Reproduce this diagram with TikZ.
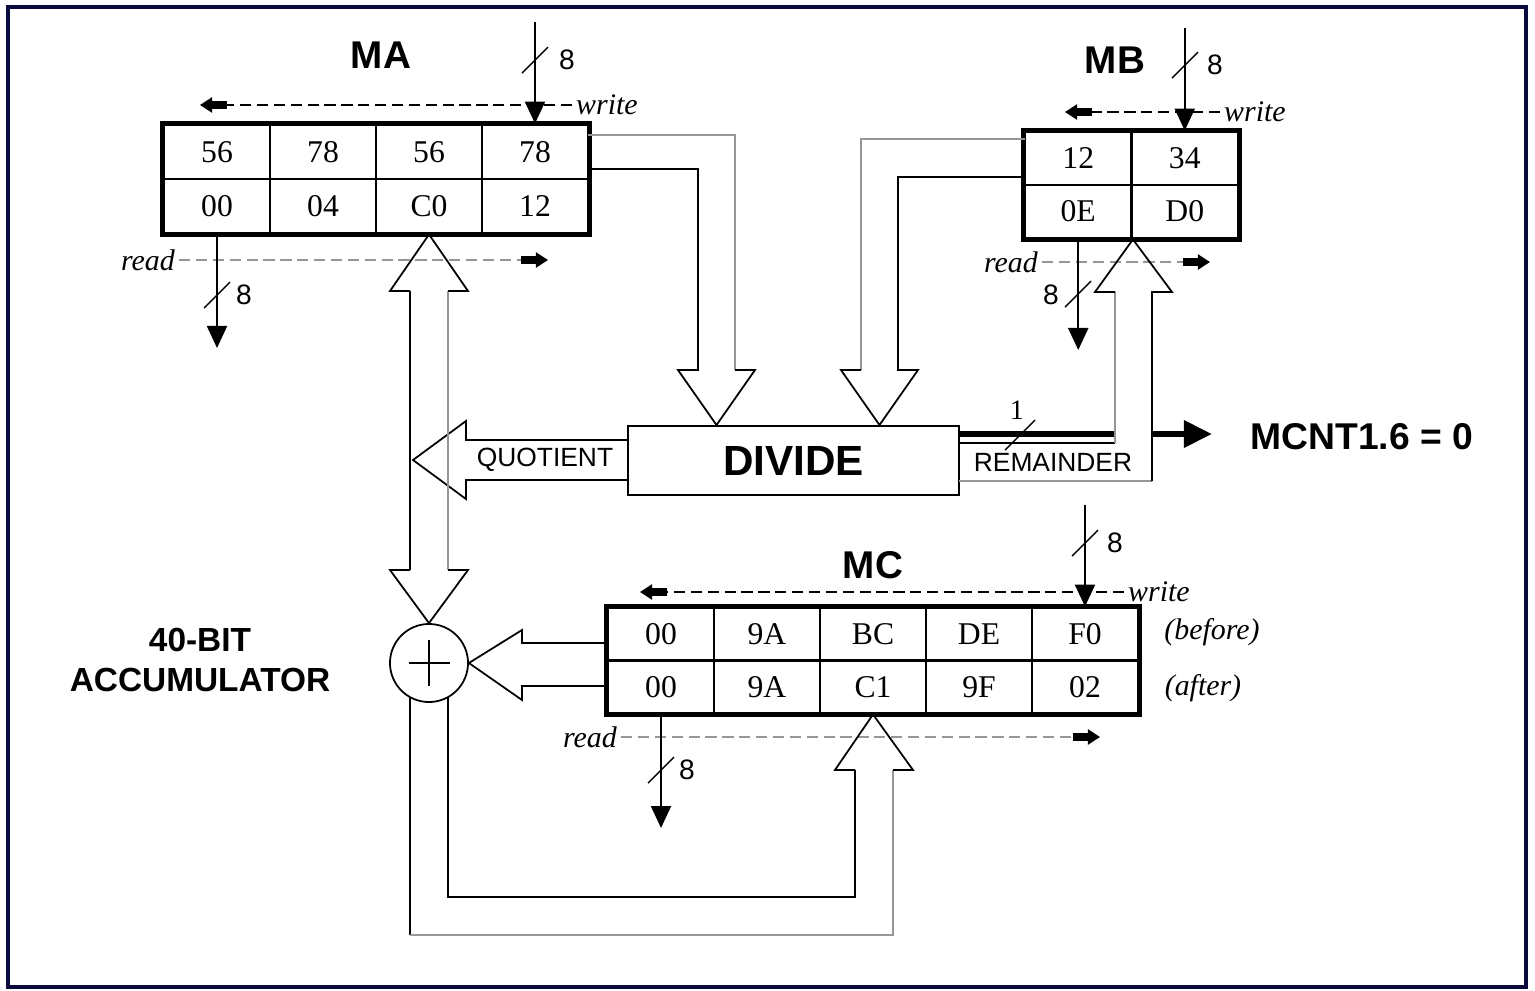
\documentclass[tikz,border=0pt]{standalone}
\usepackage{fontspec}
\setmainfont{Liberation Serif}
\setsansfont{Liberation Sans}
\usetikzlibrary{arrows.meta}

\definecolor{framecol}{RGB}{10,10,60}
\definecolor{shadecol}{RGB}{150,150,150}

\tikzset{
  cell/.style={draw, line width=0.8pt, minimum width=1.06cm, minimum height=0.54cm,
    inner sep=0pt, font=\fontsize{9}{9}\selectfont},
  regbox/.style={line width=1.3pt},
  thinline/.style={line width=0.5pt},
  shade/.style={line width=0.5pt, shadecol},
  bus/.style={line width=0.6pt, -{Triangle[length=2.2mm,width=2mm]}},
  wline/.style={line width=0.6pt, dash pattern=on 3.2pt off 1.6pt,
    -{Rectangle[black,length=1.5mm,width=0.8mm,sep=0pt]Triangle[black,length=1.2mm,width=1.5mm]}},
  rline/.style={wline, shadecol},
  slash/.style={line width=0.4pt},
  tag/.style={inner sep=1pt, font=\itshape\fontsize{8.5}{10}\selectfont},
  num/.style={inner sep=1pt, font=\sffamily\fontsize{8}{9}\selectfont},
  title/.style={font=\sffamily\bfseries\fontsize{11}{13}\selectfont},
  lbl/.style={inner sep=1pt, font=\sffamily\fontsize{7.5}{9}\selectfont},
}

\begin{document}
\begin{tikzpicture}[x=0.01cm, y=-0.01cm]
  \useasboundingbox (0,0) rectangle (1535,990);
  \draw[framecol, line width=0.9pt] (8,7) rectangle (1526,987);

  % --- register MA
  \foreach \v [count=\i] in {56,78,56,78}
    \node[cell] (ma-t\i) at (111+106*\i,152) {\v};
  \foreach \v [count=\i] in {00,04,C0,12}
    \node[cell] (ma-b\i) at (111+106*\i,206) {\v};
  \draw[regbox] (ma-t1.north west) rectangle (ma-b4.south east);
  \node[title] (ma-lbl) at (381,55) {MA};

  \coordinate (ma-in) at (535,22);
  \draw[bus] (ma-in) -- (ma-t4.north);
  \draw[slash] (522,73) -- (548,47);
  \node[num] (ma-wn) at (567,60) {8};
  \node[tag, anchor=west] (ma-w) at (572,105) {write};
  \coordinate (ma-wend) at (200,105);
  \draw[wline] (ma-w.west) -- (ma-wend);

  \node[tag, anchor=east] (ma-r) at (179,260) {read};
  \coordinate (ma-rend) at (548,260);
  \draw[rline] (ma-r.east) -- (ma-rend);
  \coordinate (ma-out) at (217,348);
  \draw[bus] (ma-b1.south) -- (ma-out);
  \draw[slash] (204,308) -- (230,282);
  \node[num] (ma-rn) at (244,295) {8};

  % --- register MB
  \foreach \v [count=\i] in {12,34}
    \node[cell, minimum width=1.065cm, minimum height=0.53cm] (mb-t\i) at (971.75+106.5*\i,158.5) {\v};
  \foreach \v [count=\i] in {0E,D0}
    \node[cell, minimum width=1.065cm, minimum height=0.53cm] (mb-b\i) at (971.75+106.5*\i,211.5) {\v};
  \draw[regbox] (mb-t1.north west) rectangle (mb-b2.south east);
  \node[title] (mb-lbl) at (1115,60) {MB};

  \coordinate (mb-in) at (1184.75,28);
  \draw[bus] (mb-in) -- (mb-t2.north);
  \draw[slash] (1172,78) -- (1198,52);
  \node[num] (mb-wn) at (1215,65) {8};
  \node[tag, anchor=west] (mb-w) at (1220,112) {write};
  \coordinate (mb-wend) at (1065,112);
  \draw[wline] (mb-w.west) -- (mb-wend);

  \node[tag, anchor=east] (mb-r) at (1042,262) {read};
  \coordinate (mb-rend) at (1210,262);
  \draw[rline] (mb-r.east) -- (mb-rend);
  \coordinate (mb-out) at (1078.25,350);
  \draw[bus] (mb-b1.south) -- (mb-out);
  \draw[slash] (1065,307) -- (1091,281);
  \node[num] (mb-rn) at (1051,295) {8};

  % --- register MC
  \foreach \v [count=\i] in {00,9A,BC,DE,F0}
    \node[cell, minimum height=0.525cm] (mc-t\i) at (555+106*\i,634.25) {\v};
  \foreach \v [count=\i] in {00,9A,C1,9F,02}
    \node[cell, minimum height=0.525cm] (mc-b\i) at (555+106*\i,686.75) {\v};
  \draw[regbox] (mc-t1.north west) rectangle (mc-b5.south east);
  \node[title] (mc-lbl) at (873,565) {MC};
  \node[tag] (before) at (1212,632) {(before)};
  \node[tag] (after) at (1203,688) {(after)};

  \coordinate (mc-in) at (1085,505);
  \draw[bus] (mc-in) -- (mc-t5.north);
  \draw[slash] (1072,556) -- (1098,530);
  \node[num] (mc-wn) at (1115,543) {8};
  \node[tag, anchor=west] (mc-w) at (1124,592) {write};
  \coordinate (mc-wend) at (640,592);
  \draw[wline] (mc-w.west) -- (mc-wend);

  \node[tag, anchor=east] (mc-r) at (621,737) {read};
  \coordinate (mc-rend) at (1100,737);
  \draw[rline] (mc-r.east) -- (mc-rend);
  \coordinate (mc-out) at (661,828);
  \draw[bus] (mc-b1.south) -- (mc-out);
  \draw[slash] (648,783) -- (674,757);
  \node[num] (mc-rn) at (687,770) {8};

  % --- divider and adder
  \node[draw, thinline, minimum width=3.31cm, minimum height=0.69cm,
    font=\sffamily\bfseries\fontsize{12}{14}\selectfont] (div) at (793.5,460.5) {DIVIDE};
  \node[draw, thinline, circle, minimum size=0.78cm, inner sep=0pt] (add) at (429,663) {};
  \draw[thinline] ([xshift=-0.2cm]add.center) -- ([xshift=0.21cm]add.center)
    ([yshift=-0.23cm]add.center) -- ([yshift=0.23cm]add.center);
  \node[align=center, font=\sffamily\bfseries\fontsize{9.5}{11.4}\selectfont] (acc) at (200,660)
    {40-BIT\\ACCUMULATOR};

  % MA -> DIVIDE
  \draw[shade] (588,135) -| (735,370);
  \draw[thinline] (588,169) -| (698,370) -- (678,370) -- (716.5,425) -- (755,370) -- (735,370);

  % MB -> DIVIDE
  \draw[shade] (1025,139) -| (861,370);
  \draw[thinline] (1025,177) -| (898,370) -- (918,370) -- (879.5,425) -- (841,370) -- (861,370);

  % remainder back to MB
  \draw[line width=1.6pt] (959,434) -- (1115,434);
  \draw[thinline] (959,443) -- (1115,443);
  \draw[shade] (1115,443) -- (1115,292);
  \draw[shade] (959,481) -- (1152,481);
  \draw[thinline] (1152,481) -- (1152,292) -- (1172,292) -- (mb-b1.south east) -- (1095,292) -- (1115,292);
  \node[lbl] (rem) at (1053,462) {REMAINDER};
  \node[inner sep=1pt, font=\fontsize{8}{9}\selectfont] (rem-w) at (1017,410) {1};
  \draw[slash] (1005,450) -- (1035,420);

  % MCNT flag
  \node[font=\sffamily\bfseries\fontsize{10.6}{13}\selectfont, anchor=west] (mcnt) at (1238,437) {MCNT1.6 = 0};
  \coordinate (mcnt-tip) at (1212,434);
  \draw[line width=1.8pt, -{Triangle[length=2.8mm,width=2.6mm]}] (1152,434) -- (mcnt-tip);

  % quotient
  \draw[thinline] (628,440) -- (466,440) -- (466,421) -- (413,460) -- (466,499) -- (466,480) -- (628,480);
  \node[lbl] (quo) at (545,460) {QUOTIENT};

  % MA <-> adder
  \draw[thinline] (410,291) -- (410,570);
  \draw[shade] (448,291) -- (448,570);
  \draw[thinline] (410,291) -- (390,291) -- (ma-b3.south) -- (468,291) -- (448,291);
  \draw[thinline] (410,570) -- (390,570) -- (add.north) -- (468,570) -- (448,570);

  % MC -> adder
  \draw[thinline] (608,643) -- (522,643) -- (522,630) -- (add.east) -- (522,700) -- (522,686) -- (608,686);

  % adder -> MC feedback
  \draw[thinline] (410,697) -- (410,935);
  \draw[shade] (410,935) -| (893,770);
  \draw[thinline] (448,697) |- (855,897) -- (855,770);
  \draw[thinline] (855,770) -- (835,770) -- (mc-b3.south) -- (913,770) -- (893,770);
\end{tikzpicture}
\end{document}
